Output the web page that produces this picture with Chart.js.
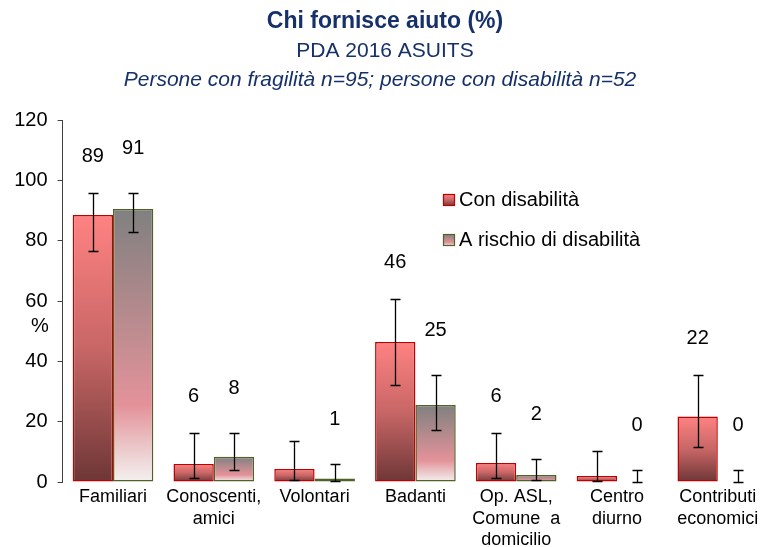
<!DOCTYPE html>
<html>
<head>
<meta charset="utf-8">
<script src="https://cdn.jsdelivr.net/npm/chart.js@4/dist/chart.umd.min.js"></script>
<style>
  body { margin: 0; background: #fff; overflow: hidden; }
  #wrap { width: 763px; height: 547px; overflow: hidden; }
</style>
</head>
<body>
<div id="wrap"><canvas id="first_chart" width="770" height="547"></canvas></div>
<script>
// dati
const categories = [['Familiari'], ['Conoscenti,', 'amici'], ['Volontari'], ['Badanti'],
    ['Op. ASL,', 'Comune  a', 'domicilio'], ['Centro', 'diurno'], ['Contributi', 'economici']];

const conDisabilita = [88.5, 6, 4.3, 46.4, 6.3, 2, 21.7];
const conDisabilitaLow = [76.6, 1.3, 0.7, 32.2, 1.3, 0.3, 11.5];
const conDisabilitaHigh = [95.8, 16.2, 13.6, 60.7, 16.2, 10.3, 35.5];
const conDisabilitaLabels = ['89', '6', '', '46', '6', '', '22'];

const aRischio = [90.5, 8.4, 1.2, 25.5, 2.3, 0, 0];
const aRischioLow = [82.9, 4, 0.3, 17.2, 0.5, 0, 0];
const aRischioHigh = [95.8, 16.2, 6, 35.5, 7.6, 4, 4];
const aRischioLabels = ['91', '8', '1', '25', '2', '0', '0'];

const yTicks = [0, 20, 40, 60, 80, 100, 120];

const FONT = "'Liberation Sans', Arial, sans-serif";
const NAVY = '#16306A';

function redGradient(ctx, top, bottom) {
    const g = ctx.createLinearGradient(0, top, 0, bottom);
    g.addColorStop(0, '#FF8282');
    g.addColorStop(0.5, '#C86666');
    g.addColorStop(1, '#6E3636');
    return g;
}

function grayGradient(ctx, top, bottom) {
    const g = ctx.createLinearGradient(0, top, 0, bottom);
    g.addColorStop(0, '#808080');
    g.addColorStop(0.45, '#BE8C90');
    g.addColorStop(0.72, '#E4929A');
    g.addColorStop(0.88, '#ECCACC');
    g.addColorStop(1, '#F4F0F0');
    return g;
}

// gradiente per ogni barra, dalla cima alla base
function barFill(makeGradient, fallback) {
    return function(context) {
        if (context.type !== 'data') return fallback;
        const chart = context.chart;
        const y = chart.scales.y;
        if (!y) return fallback;
        const top = y.getPixelForValue(context.raw);
        const bottom = y.getPixelForValue(0);
        if (!isFinite(top) || !isFinite(bottom) || bottom - top < 1) return fallback;
        return makeGradient(chart.ctx, top, bottom);
    };
}

const errorBars = {
    id: 'errorBars',
    afterDatasetsDraw(chart) {
        const ctx = chart.ctx;
        const y = chart.scales.y;
        const lows = [conDisabilitaLow, aRischioLow];
        const highs = [conDisabilitaHigh, aRischioHigh];
        const labels = [conDisabilitaLabels, aRischioLabels];
        const gap = [37, 45];
        ctx.save();
        ctx.strokeStyle = '#000';
        ctx.lineWidth = 1.3;
        chart.data.datasets.forEach((ds, di) => {
            const meta = chart.getDatasetMeta(di);
            meta.data.forEach((bar, i) => {
                const x = Math.round(bar.x) + 0.5;
                const yl = Math.round(y.getPixelForValue(lows[di][i])) + 0.5;
                const yh = Math.round(y.getPixelForValue(highs[di][i])) + 0.5;
                ctx.beginPath();
                ctx.moveTo(x, yl); ctx.lineTo(x, yh);
                ctx.moveTo(x - 5, yl); ctx.lineTo(x + 5, yl);
                ctx.moveTo(x - 5, yh); ctx.lineTo(x + 5, yh);
                ctx.stroke();
                const txt = labels[di][i];
                if (txt) {
                    ctx.fillStyle = '#000';
                    ctx.font = '20px ' + FONT;
                    ctx.textAlign = 'center';
                    ctx.textBaseline = 'middle';
                    ctx.fillText(txt, bar.x, yh - gap[di]);
                }
            });
        });
        ctx.restore();
    }
};

const extras = {
    id: 'extras',
    afterDraw(chart) {
        const ctx = chart.ctx;
        const cx = chart.width / 2;
        ctx.save();
        ctx.textAlign = 'center';
        ctx.textBaseline = 'middle';
        ctx.fillStyle = NAVY;
        ctx.font = 'bold 23px ' + FONT;
        ctx.fillText('Chi fornisce aiuto (%)', cx, 22);
        ctx.font = '21px ' + FONT;
        ctx.fillText('PDA 2016 ASUITS', cx, 51);
        ctx.font = 'italic 21px ' + FONT;
        ctx.fillText('Persone con fragilità n=95; persone con disabilità n=52', cx - 5, 80);

        // etichetta asse y
        const y = chart.scales.y;
        ctx.fillStyle = '#000';
        ctx.font = '20px ' + FONT;
        ctx.fillText('%', 40, y.getPixelForValue(51.5));

        // legenda
        const items = [
            {text: 'Con disabilità', grad: redGradient, border: '#C00000', yc: 200},
            {text: 'A rischio di disabilità', grad: grayGradient, border: '#4F6228', yc: 240}
        ];
        items.forEach(it => {
            const sx = 443, sy = it.yc - 6;
            ctx.fillStyle = it.grad(ctx, sy, sy + 12);
            ctx.fillRect(sx, sy, 12, 12);
            ctx.strokeStyle = it.border;
            ctx.lineWidth = 1.2;
            ctx.strokeRect(sx + 0.5, sy + 0.5, 11, 11);
            ctx.fillStyle = '#000';
            ctx.textAlign = 'left';
            ctx.fillText(it.text, 459, it.yc);
        });
        ctx.restore();
    }
};

const chart_1 = document.getElementById('first_chart');

new Chart(chart_1, {
    type: 'bar',
    data: {
        labels: categories,
        datasets: [{
            label: 'Con disabilità',
            data: conDisabilita,
            backgroundColor: barFill(redGradient, '#FF8282'),
            borderColor: '#C00000',
            borderWidth: 1.5,
            borderSkipped: false,
            categoryPercentage: 0.8,
            barPercentage: 1
        }, {
            label: 'A rischio di disabilità',
            data: aRischio,
            backgroundColor: barFill(grayGradient, '#808080'),
            borderColor: '#4F6228',
            borderWidth: 1.5,
            borderSkipped: false,
            categoryPercentage: 0.8,
            barPercentage: 1
        }]
    },
    options: {
        responsive: false,
        animation: false,
        devicePixelRatio: 1,
        layout: {
            padding: {top: 120, left: 12.6, right: 1.8, bottom: 0}
        },
        plugins: {
            legend: {display: false},
            title: {display: false},
            tooltip: {enabled: false}
        },
        scales: {
            x: {
                grid: {display: false, drawTicks: false},
                border: {display: false},
                ticks: {
                    color: '#000',
                    padding: 5,
                    maxRotation: 0,
                    autoSkip: false,
                    font: {family: FONT, size: 18, lineHeight: 1.17}
                },
                afterFit: s => { s.height = 65; }
            },
            y: {
                min: 0,
                max: 120,
                afterBuildTicks: s => { s.ticks = yTicks.map(v => ({value: v})); },
                grid: {drawOnChartArea: false, drawTicks: true, tickLength: 5, color: '#404040'},
                border: {display: true, color: '#404040', width: 1},
                ticks: {
                    color: '#000',
                    padding: 10,
                    font: {family: FONT, size: 20}
                },
                afterFit: s => { s.width = 50; }
            }
        }
    },
    plugins: [errorBars, extras]
});
</script>
</body>
</html>
